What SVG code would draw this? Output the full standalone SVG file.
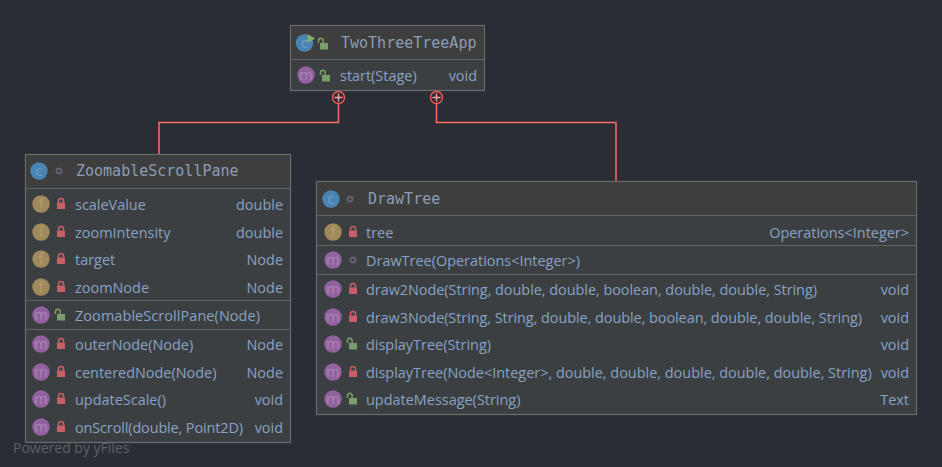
<svg xmlns="http://www.w3.org/2000/svg" width="942" height="467" viewBox="0 0 942 467">
<style>
.box{fill:#3c3f41;stroke:#6a6c6e;stroke-width:1.2}
.hd{fill:#3e3e3e}
.sep{stroke:#626466;stroke-width:1.2;fill:none}
.t{font-family:"DejaVu Sans Mono",monospace;font-size:15px;fill:#8c9db2}
.m{font-family:"Open Sans","Noto Sans",sans-serif;font-size:14.45px;fill:#88a2c4}
.r{text-anchor:end}
.ic{fill:#9262a0}.if{fill:#a08a5c}.ico{fill:#4a84b3}
.ig{font-family:"Open Sans",sans-serif;font-size:15px;text-anchor:middle}
.igm{fill:#ab84b6}.igf{fill:#b29c72}.igc{fill:#6a9fc9}
.lockb{fill:#c75f68}.lockg{fill:#7d9c6b}
.lk{fill:none;stroke-width:1.5}
.dot{fill:none;stroke:#5f6470;stroke-width:2}
.conn{fill:none;stroke:#ff6b68;stroke-width:1.5}
.cc{fill:#33272c;stroke:#ef5a5a;stroke-width:1.5}
.plus{stroke:#f0a8a8;stroke-width:1.4;fill:none}
</style>
<defs>
<g id="lp"><rect class="lockb" x="-4" y="-1.500" width="8" height="6.500"/><path class="lk" stroke="#c75f68" d="M-2.500,-1.500v-1.500a2.500,2.500 0 0 1 5,0v1.500"/></g>
<g id="lo"><rect class="lockg" x="-3" y="-1" width="8" height="6.500"/><path class="lk" stroke="#7d9c6b" d="M-4.500,-1v-2.500a2.300,2.300 0 0 1 4.600,0v2.500"/></g>
<circle id="dt" class="dot" r="2.500"/>
<g id="im"><circle class="ic" r="8.700"/><text class="ig igm" y="5">m</text></g>
<g id="if"><circle class="if" r="8.700"/><text class="ig igf" y="5">f</text></g>
<g id="ic"><circle class="ico" r="8.700"/><text class="ig igc" y="5">c</text></g>
</defs>
<rect width="942" height="467" fill="#2b2d35"/>
<g id="connectors">
<path class="conn" d="M338.500,104V122.500H159V154"/>
<path class="conn" d="M436.500,104V122.500H616V182"/>
<circle class="cc" cx="338.500" cy="97.500" r="6"/><path class="plus" d="M334.500,97.500h8M338.500,93.500v8"/>
<circle class="cc" cx="436.500" cy="97.500" r="6"/><path class="plus" d="M432.500,97.500h8M436.500,93.500v8"/>
</g>
<g id="TwoThreeTreeApp">
<rect class="box" x="290.500" y="25.500" width="194" height="65"/>
<rect class="hd" x="291" y="26" width="193" height="33"/>
<path class="sep" d="M291,59.500H484"/>
<use href="#ic" x="304.500" y="43"/>
<path d="M307.500,34l7.500,4.500l-7.500,4.500z" fill="#7fb069"/>
<use href="#lo" x="323" y="44"/>
<text class="t" x="341" y="47.500">TwoThreeTreeApp</text>
<use href="#im" x="306" y="75"/>
<use href="#lo" x="325" y="76"/>
<text class="m" x="340" y="80.500">start(Stage)</text>
<text class="m r" x="477" y="80.500">void</text>
</g>
<g id="ZoomableScrollPane">
<rect class="box" x="25.500" y="154.500" width="265" height="288"/>
<rect class="hd" x="26" y="155" width="264" height="33"/>
<path class="sep" d="M26,188.500H290M26,300.500H290M26,329.500H290"/>
<use href="#ic" x="39" y="171"/>
<use href="#dt" x="59" y="171"/>
<text class="t" x="76" y="175.500">ZoomableScrollPane</text>
<use href="#if" x="41" y="204"/><use href="#lp" x="61" y="204"/>
<text class="m" x="75" y="209.500">scaleValue</text><text class="m r" x="283" y="209.500">double</text>
<use href="#if" x="41" y="232"/><use href="#lp" x="61" y="232"/>
<text class="m" x="75" y="237.500">zoomIntensity</text><text class="m r" x="283" y="237.500">double</text>
<use href="#if" x="41" y="259"/><use href="#lp" x="61" y="259"/>
<text class="m" x="75" y="264.500">target</text><text class="m r" x="283" y="264.500">Node</text>
<use href="#if" x="41" y="287"/><use href="#lp" x="61" y="287"/>
<text class="m" x="75" y="292.500">zoomNode</text><text class="m r" x="283" y="292.500">Node</text>
<use href="#im" x="41" y="315"/><use href="#lo" x="60" y="315"/>
<text class="m" x="75" y="320.500" textLength="185">ZoomableScrollPane(Node)</text>
<use href="#im" x="41" y="344"/><use href="#lp" x="61" y="344"/>
<text class="m" x="75" y="349.500">outerNode(Node)</text><text class="m r" x="283" y="349.500">Node</text>
<use href="#im" x="41" y="372"/><use href="#lp" x="61" y="372"/>
<text class="m" x="75" y="377.500">centeredNode(Node)</text><text class="m r" x="283" y="377.500">Node</text>
<use href="#im" x="41" y="399"/><use href="#lp" x="61" y="399"/>
<text class="m" x="75" y="404.500">updateScale()</text><text class="m r" x="283" y="404.500">void</text>
<use href="#im" x="41" y="427"/><use href="#lp" x="61" y="427"/>
<text class="m" x="75" y="432.500" textLength="168">onScroll(double, Point2D)</text><text class="m r" x="283" y="432.500">void</text>
</g>
<g id="DrawTree">
<rect class="box" x="316.500" y="181.500" width="600" height="233"/>
<rect class="hd" x="317" y="182" width="599" height="33"/>
<path class="sep" d="M317,215.500H916M317,245.500H916M317,274.500H916"/>
<use href="#ic" x="331" y="199"/>
<use href="#dt" x="350" y="199"/>
<text class="t" x="368" y="203.500">DrawTree</text>
<use href="#if" x="333" y="232"/><use href="#lp" x="353" y="232"/>
<text class="m" x="366" y="237.500">tree</text><text class="m r" x="909" y="237.500">Operations&lt;Integer&gt;</text>
<use href="#im" x="333" y="260"/><use href="#dt" x="353" y="260"/>
<text class="m" x="366" y="265.500">DrawTree(Operations&lt;Integer&gt;)</text>
<use href="#im" x="333" y="289"/><use href="#lp" x="353" y="289"/>
<text class="m" x="366" y="294.500" textLength="451">draw2Node(String, double, double, boolean, double, double, String)</text><text class="m r" x="909" y="294.500">void</text>
<use href="#im" x="333" y="317"/><use href="#lp" x="353" y="317"/>
<text class="m" x="366" y="322.500" textLength="496">draw3Node(String, String, double, double, boolean, double, double, String)</text><text class="m r" x="909" y="322.500">void</text>
<use href="#im" x="333" y="344"/><use href="#lo" x="352" y="344"/>
<text class="m" x="366" y="349.500">displayTree(String)</text><text class="m r" x="909" y="349.500">void</text>
<use href="#im" x="333" y="372"/><use href="#lp" x="353" y="372"/>
<text class="m" x="366" y="377.500">displayTree(Node&lt;Integer&gt;, double, double, double, double, double, String)</text><text class="m r" x="909" y="377.500">void</text>
<use href="#im" x="333" y="399"/><use href="#lo" x="352" y="399"/>
<text class="m" x="366" y="404.500">updateMessage(String)</text><text class="m r" x="909" y="404.500">Text</text>
</g>
<text x="13" y="452.500" font-family="'Open Sans',sans-serif" font-size="14px" fill="#5d6066">Powered by yFiles</text>
</svg>
